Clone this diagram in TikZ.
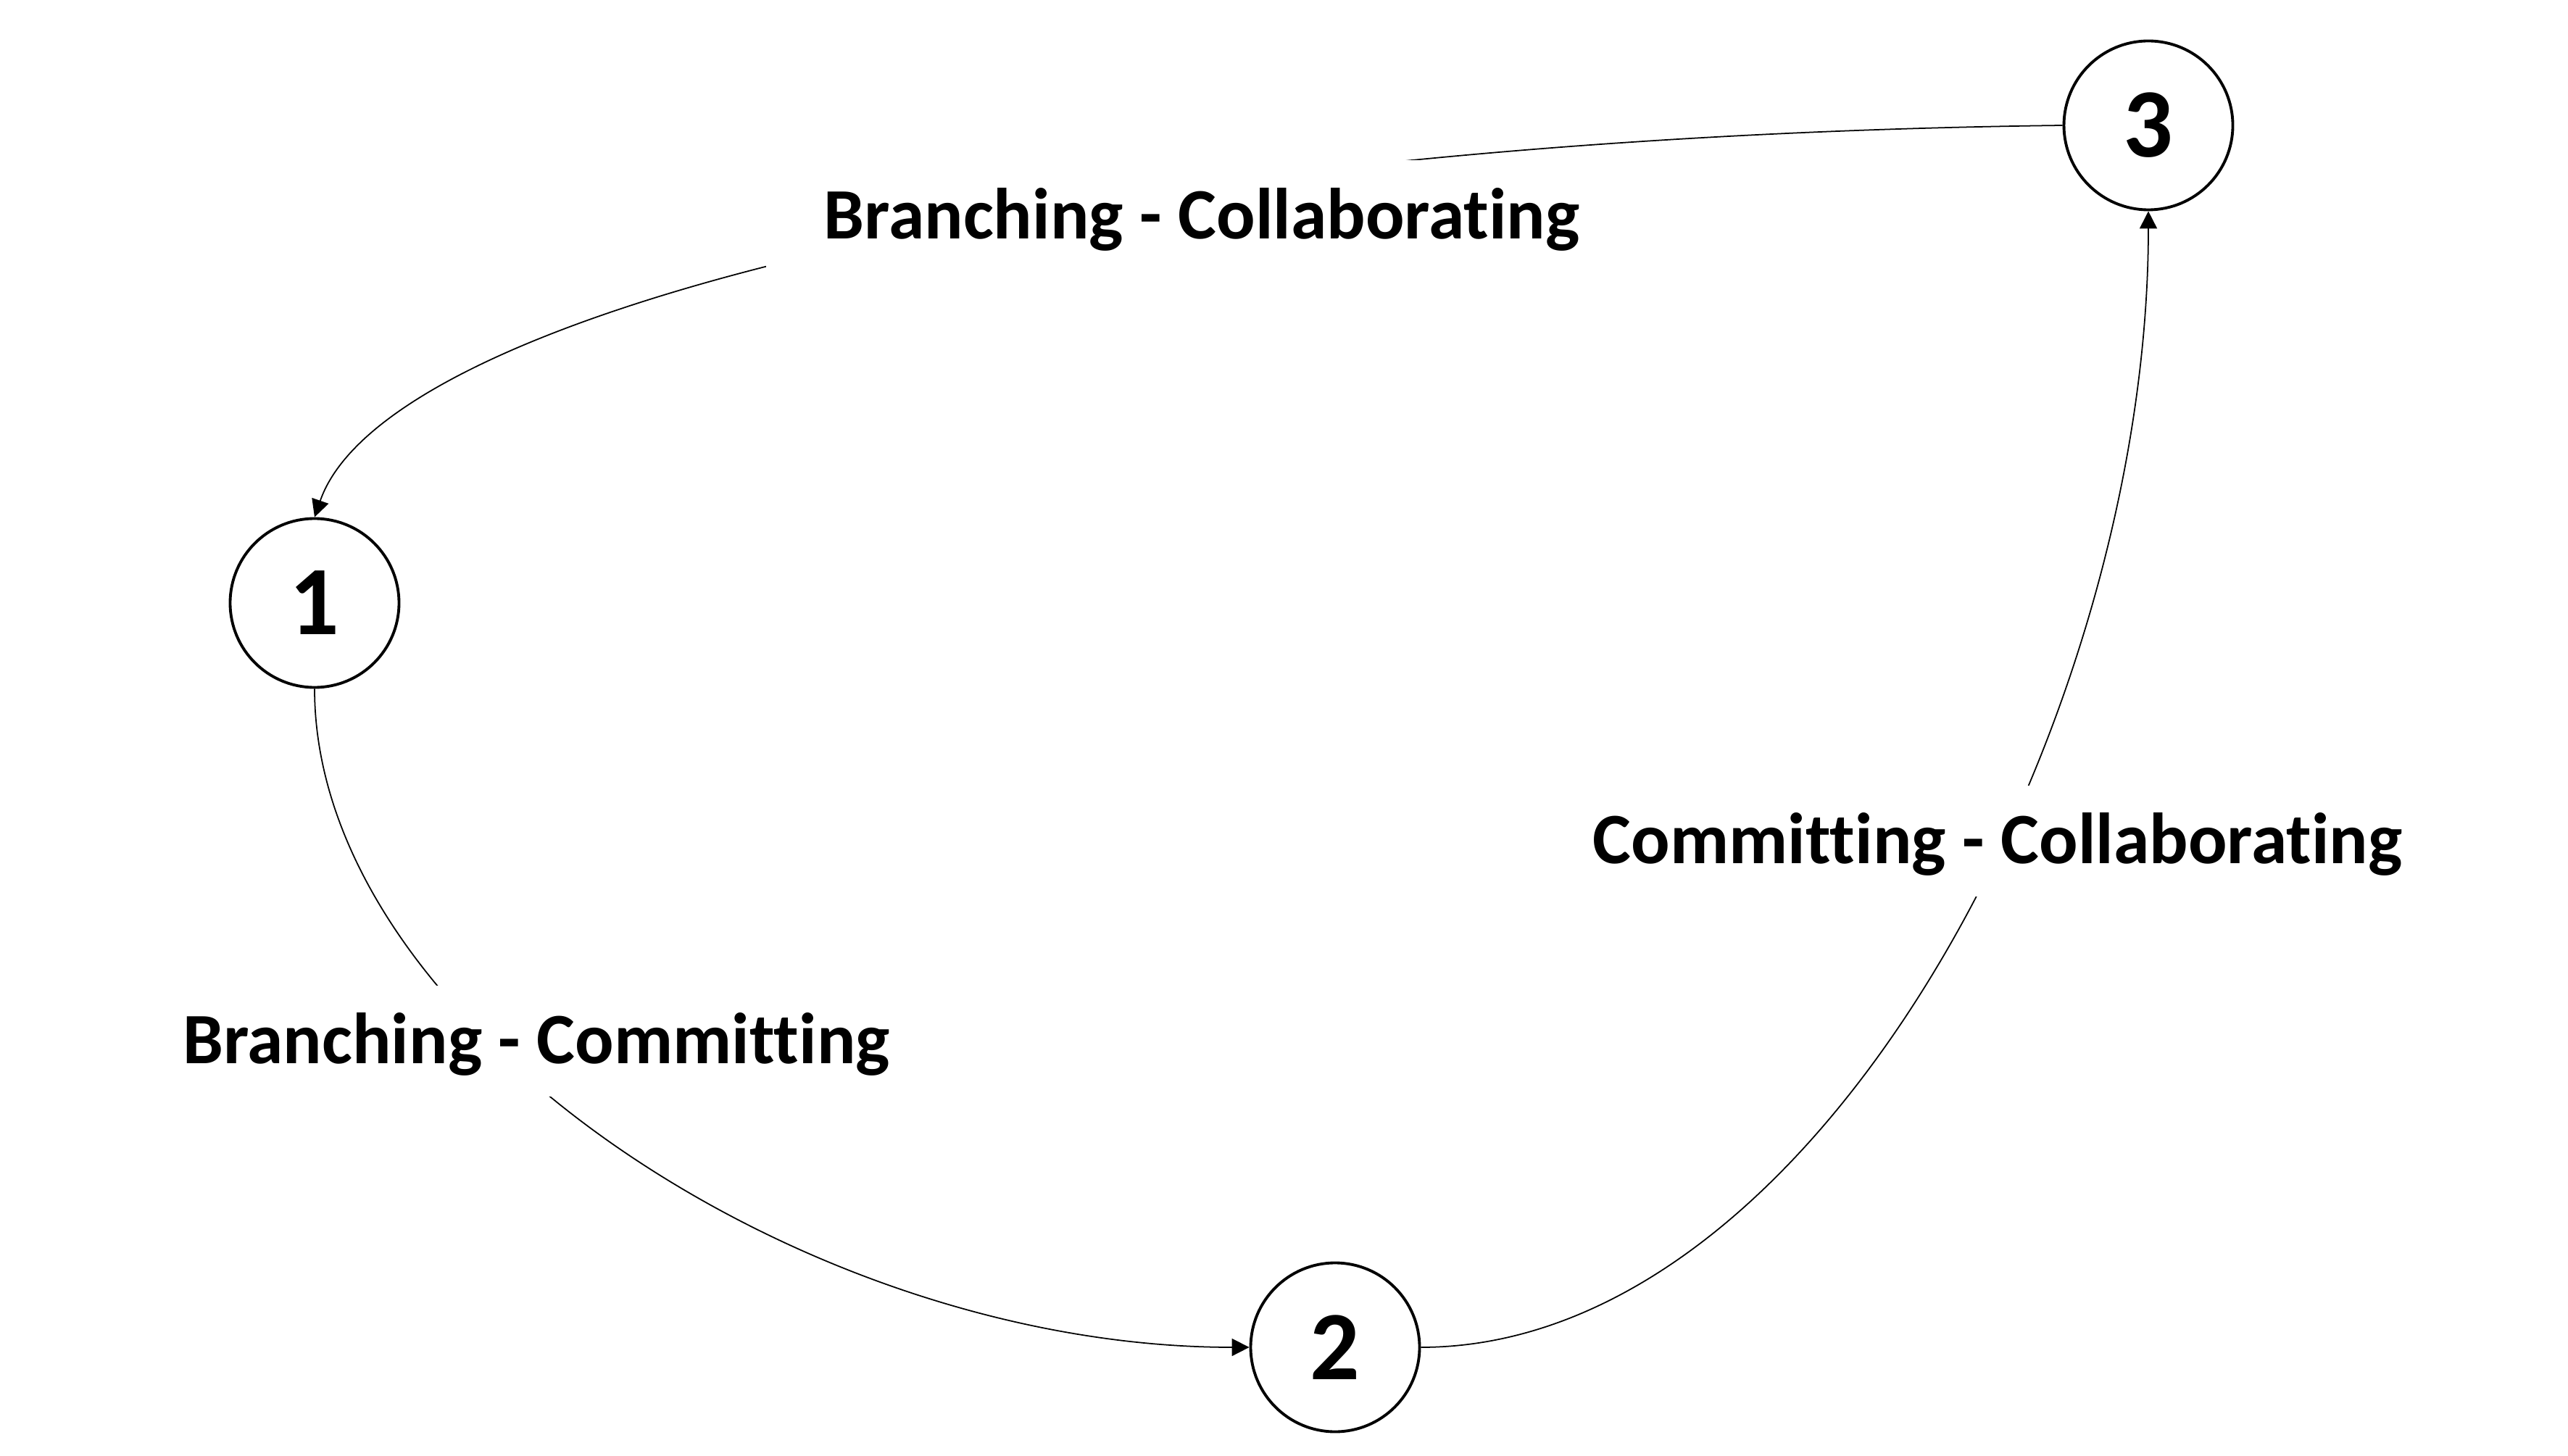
\documentclass[tikz,border=0pt]{standalone}
\usepackage{fontspec}
\setmainfont{Carlito}[Ligatures=CommonOff]
\usetikzlibrary{arrows.meta}

\begin{document}
\begin{tikzpicture}[
      state/.style={circle, draw, line width=1.1pt, minimum size=2.33cm,
        inner sep=0pt, font=\fontsize{38.5}{40}\selectfont\bfseries},
      rotulo/.style={fill=white, inner xsep=0.8cm, inner ysep=0.45cm,
        text height=0.63cm, text depth=0pt,
        font=\fontsize{28.4}{30}\selectfont\bfseries},
      trans/.style={line width=0.5pt, -{Triangle[length=0.24cm, width=0.24cm]}}
    ]
    \useasboundingbox (0,0) rectangle (35.43,20.08);
    % Estados
    \node[state] (s1) at (4.34,11.76) {1};
    \node[state] (s2) at (18.42,1.49) {2};
    \node[state] (s3) at (29.64,18.35) {3};
    % Transições
    \draw[trans] (s3.west) .. controls +(-13,-0.16) and +(1.02,2.95) .. (s1.north);
    \draw[trans] (s1.south) .. controls +(0,-4.6) and +(-6.2,0) .. (s2.west);
    \draw[trans] (s2.east) .. controls +(5.5,0) and +(0,-7) .. (s3.south);
    % Rótulos
    \node[rotulo] (bc) at (16.58,17.10) {Branching - Collaborating};
    \node[rotulo] (bm) at (7.40,5.72) {Branching - Committing};
    \node[rotulo] (mc) at (27.56,8.48) {Committing - Collaborating};
  \end{tikzpicture}
\end{document}
